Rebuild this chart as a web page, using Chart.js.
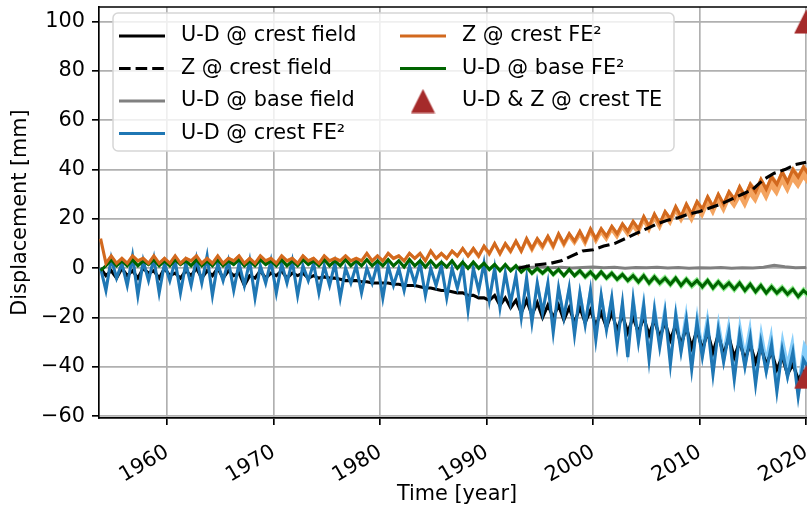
<!DOCTYPE html>
<html>
<head>
<meta charset="utf-8">
<script src="https://cdn.jsdelivr.net/npm/chart.js@4.4.1/dist/chart.umd.min.js"></script>
<style>
  html, body { margin: 0; padding: 0; background: #fff; overflow: hidden; }
  #chart { display: block; margin-top: -6px; }
</style>
</head>
<body>
<canvas id="chart" width="850" height="519"></canvas>
<script>
// samples: two per year from 1954 to 2020 (at Y-0.25 and Y+0.25)
var sampleStart = 1953.75;
var sampleStep = 0.5;

// U-D @ crest field
var udCrestField = [
    0, -3,   -1, -4,    0, -3,   -1, -4,    0, -2,
   -1, -4,    0, -3,   -2, -4,   -1, -3,    0, -4,
   -1, -3,    0, -4,   -1, -3,   -2, -7,   -3, -4,
   -1, -4,   -2, -3,   -1, -4,   -2, -3,   -2, -4,
   -3, -4, -3.5, -4,   -4, -4.5, -5, -5,   -5, -5.5,
 -5.5, -6,   -6, -6,   -6, -6.5, -6.5, -7, -7, -7,
 -7.5, -8,   -8, -8.5, -9, -9, -9.5, -10, -10, -11,
  -11, -12, -12, -13, -11, -15, -12, -16, -13, -18,
  -13, -19, -14, -20, -15, -20, -15, -21, -16, -22,
  -16, -22, -17, -23, -18, -24, -18, -25, -19, -26,
  -20, -26, -20, -27, -21, -28, -22, -29, -23, -31,
  -24, -32, -25, -33, -26, -34, -27, -35, -28, -36,
  -30, -37, -31, -38, -32, -39, -34, -41, -36, -43,
  -39, -45, -42, -45
];

// U-D @ crest FE2
var udCrestFE2 = [
    0, -9,    4, -4,    2, -7,    5, -11,   3, -5,
    4, -10,   2, -5,    3, -10,   2, -7,    4, -6,
    5, -11,   2, -5,    3, -9,    2, -7,    3, -12,
    1, -6,    3, -10,   2, -6,    3, -11,   1, -5,
    2, -10,   1, -7,    2, -12,   0, -6,    1, -10,
    0, -6,    2, -12,   1, -7,    0, -9,    1, -6,
    2, -11,   0, -7,    1, -12,   0, -8,    1, -17,
    0, -9,    2, -13,   0, -16,  -2, -14,  -3, -20,
   -4, -22,  -6, -18,  -6, -26,  -8, -20,  -8, -27,
  -10, -23,  -9, -29, -11, -25, -12, -31, -14, -36,
  -13, -30, -15, -37, -17, -32, -18, -39, -19, -34,
  -21, -41, -22, -36, -23, -43, -25, -38, -26, -45,
  -27, -40, -28, -47, -30, -42, -31, -50, -33, -44,
  -34, -52, -37, -41
];

// Z @ crest FE2
var zCrestFE2 = [
   12, 2,   5, 2,   4, 2,   5, 3,   4, 2,
    5, 2,   4, 2,   5, 2,   4, 3,   5, 2,
    4, 2,   5, 2,   4, 3,   5, 2,   4, 2,
    5, 3,   4, 2,   5, 3,   4, 2,   5, 3,
    4, 2,   5, 3,   4, 3,   5, 3,   4, 3,
    6, 3,   5, 3,   6, 4,   5, 3,   6, 4,
    6, 3,   7, 4,   6, 4,   7, 5,   8, 5,
    8, 5,   9, 6,  10, 6,  10, 7,  11, 7,
   12, 8,  12, 9,  13, 9,  14, 10, 14, 11,
   15, 11, 16, 12, 16, 13, 17, 14, 18, 15,
   19, 16, 21, 17, 22, 18, 23, 20, 25, 21,
   26, 22, 27, 24, 29, 25, 30, 26, 31, 28,
   33, 29, 34, 31, 36, 32, 37, 34, 39, 35,
   40, 37, 41, 38
];

// U-D @ base FE2
var udBaseFE2 = [
   -1, 1,     3.5, 1,    3, 1,      3.5, 1,    3, 1.5,
  3.5, 1,     3, 1,      3.5, 1.5,  3, 1,      3.5, 1,
    3, 1,     3.5, 1,    3, 1.5,    3.5, 1,    3, 1,
  3.5, 1.5,   3, 1,      3.5, 1,    3, 1,      3.5, 1.5,
    3, 1,     3.5, 1,    3, 1,      3.5, 1,    3, 1,
  3.5, 1,     3, 1,      3.5, 1,    3, 0.5,    3.5, 1,
    3, 0.5,   3, 0.5,    2.5, 0.5,  3, 0,      2.5, 0,
  2.5, 0,     2, -0.5,   1.5, -1,   1.5, -1,   1, -1.5,
  0.5, -2,    0, -2,     0, -2.5,  -0.5, -3,  -0.5, -3,
   -1, -3.5, -1.5, -4,  -1.5, -4,   -2, -4.5, -2.5, -5,
   -3, -5.5,  -3, -6,   -3.5, -6,   -4, -6.5,  -4, -7,
 -4.5, -7,    -5, -7.5,  -5, -8,  -5.5, -8,    -6, -8.5,
   -6, -9,  -6.5, -9.5,  -7, -10, -7.5, -10,   -8, -10.5,
 -8.5, -11.5, -9, -11
];

// FE2 band spread, one value per 5 years from 1954
var udCrestBandUp   = [0.8, 0.8, 0.8, 0.8, 0.8, 0.8, 1.0, 1.5, 3, 4, 6, 7, 8, 8];
var udCrestBandDown = [0.8, 0.8, 0.8, 0.8, 0.8, 0.8, 1.0, 1.5, 2, 2.5, 3, 3, 3, 3];
var zCrestBandUp    = [0.8, 0.8, 0.8, 0.8, 0.8, 0.8, 0.8, 1, 1, 1, 1, 1.2, 1.5, 1.5];
var zCrestBandDown  = [0.8, 0.8, 0.8, 0.8, 0.8, 0.8, 1, 1.5, 2, 2.5, 3, 4, 5, 5];
var udBaseBand      = [0.7, 0.7, 0.7, 0.7, 0.7, 0.7, 0.8, 1, 1.2, 1.4, 1.6, 1.6, 1.6, 1.6];

// field data from 1993, yearly
var fieldYears = [1993, 1994, 1995, 1996, 1997, 1998, 1999, 2000, 2001, 2002, 2003, 2004, 2005, 2006,
                  2007, 2008, 2009, 2010, 2011, 2012, 2013, 2014, 2015, 2016, 2017, 2018, 2019, 2020];
var zCrestField = [0, 1, 1.5, 2, 3, 5, 7, 7.5, 9, 10, 12, 14, 16, 18,
                   19.5, 20.5, 22, 23, 24.5, 26, 28, 30, 32, 36, 38.5, 40, 42, 43];
var udBaseField = [0.5, 0.3, 0.6, 0.2, 0.4, 0.1, 0.3, 0.5, 0.2, 0.4, 0.0, 0.3, 0.2, 0.4,
                   0.1, 0.3, 0.0, 0.2, 0.1, 0.3, 0.0, 0.2, 0.1, 0.4, 1.2, 0.6, 0.2, 0.3];

// TE
var teYears = [2020, 2020];
var teValues = [100, -44];

var xTicks = [1960, 1970, 1980, 1990, 2000, 2010, 2020];
var yTicks = [-60, -40, -20, 0, 20, 40, 60, 80, 100];

var FONT = '"DejaVu Sans", sans-serif';
var FS = 20.8;
var LW = 3.1;

function samplePoints(vals) {
    return vals.map(function(v, i) { return {x: sampleStart + i * sampleStep, y: v}; });
}
function bandPoints(vals, spread, sign) {
    return vals.map(function(v, i) {
        var k = Math.min(spread.length - 1, Math.floor(Math.floor(i / 2) / 5));
        return {x: sampleStart + i * sampleStep, y: v + sign * spread[k]};
    });
}
function yearPoints(years, vals) {
    return vals.map(function(v, i) { return {x: years[i], y: v}; });
}

// matplotlib style '^' marker
var tri = document.createElement('canvas');
tri.width = 25; tri.height = 25;
var tctx = tri.getContext('2d');
tctx.fillStyle = '#a52a2a';
tctx.beginPath();
tctx.moveTo(12.5, 0.5);
tctx.lineTo(24.5, 24.5);
tctx.lineTo(0.5, 24.5);
tctx.closePath();
tctx.fill();

function lineSet(label, data, color, order, dash) {
    return {
        label: label, data: data, borderColor: color, borderWidth: LW,
        borderDash: dash || [], pointRadius: 0, fill: false, order: order
    };
}
function bandSet(data, color, order, fillPrev) {
    return {
        label: '', data: data, borderWidth: 0, borderColor: 'rgba(0,0,0,0)',
        backgroundColor: color, pointRadius: 0, fill: fillPrev ? '-1' : false, order: order
    };
}

var datasets = [
    {label: 'U-D & Z @ crest TE', data: yearPoints(teYears, teValues), showLine: false,
     pointStyle: tri, pointRadius: 12, order: 0},
    lineSet('Z @ crest field', yearPoints(fieldYears, zCrestField), 'black', 1, [11.6, 5]),
    lineSet('Z @ crest FE\u00b2', samplePoints(zCrestFE2), '#d2691e', 2),
    lineSet('U-D @ base FE\u00b2', samplePoints(udBaseFE2), '#006400', 3),
    lineSet('U-D @ crest FE\u00b2', samplePoints(udCrestFE2), '#1f77b4', 4),
    lineSet('U-D @ crest field', samplePoints(udCrestField), 'black', 5),
    lineSet('U-D @ base field', yearPoints(fieldYears, udBaseField), '#808080', 6),
    bandSet(bandPoints(zCrestFE2, zCrestBandDown, -1), '#f4a460', 7, false),
    bandSet(bandPoints(zCrestFE2, zCrestBandUp, 1), '#f4a460', 7, true),
    bandSet(bandPoints(udBaseFE2, udBaseBand, -1), '#90ee90', 8, false),
    bandSet(bandPoints(udBaseFE2, udBaseBand, 1), '#90ee90', 8, true),
    bandSet(bandPoints(udCrestFE2, udCrestBandDown, -1), '#87cefa', 9, false),
    bandSet(bandPoints(udCrestFE2, udCrestBandUp, 1), '#87cefa', 9, true)
];

var legendRows = [
    {label: 'U-D @ crest field', kind: 'line', color: 'black', col: 0, row: 0},
    {label: 'Z @ crest field', kind: 'dash', color: 'black', col: 0, row: 1},
    {label: 'U-D @ base field', kind: 'line', color: '#808080', col: 0, row: 2},
    {label: 'U-D @ crest FE\u00b2', kind: 'line', color: '#1f77b4', col: 0, row: 3},
    {label: 'Z @ crest FE\u00b2', kind: 'line', color: '#d2691e', col: 1, row: 0},
    {label: 'U-D @ base FE\u00b2', kind: 'line', color: '#006400', col: 1, row: 1},
    {label: 'U-D & Z @ crest TE', kind: 'marker', color: '#a52a2a', col: 1, row: 2}
];

// canvas is shifted up by this much on the page
var SHIFT = 6;

var frameAndLegend = {
    id: 'frameAndLegend',
    afterDraw: function(chart) {
        var ctx = chart.ctx, a = chart.chartArea;
        ctx.save();
        ctx.strokeStyle = 'black';
        ctx.lineWidth = 1.67;
        ctx.beginPath();
        ctx.moveTo(a.left, a.top);
        ctx.lineTo(a.right, a.top);
        ctx.lineTo(a.right, a.bottom);
        ctx.stroke();

        // legend box
        var bx = 113, by = 13 + SHIFT, bw = 561, bh = 138, r = 5;
        ctx.beginPath();
        ctx.moveTo(bx + r, by);
        ctx.arcTo(bx + bw, by, bx + bw, by + bh, r);
        ctx.arcTo(bx + bw, by + bh, bx, by + bh, r);
        ctx.arcTo(bx, by + bh, bx, by, r);
        ctx.arcTo(bx, by, bx + bw, by, r);
        ctx.closePath();
        ctx.fillStyle = 'rgba(255,255,255,0.8)';
        ctx.fill();
        ctx.strokeStyle = '#d6d6d6';
        ctx.lineWidth = 1.5;
        ctx.stroke();

        var handleX = [119, 400], textX = [181, 462], rowY = [36, 68.5, 101, 133.5];
        ctx.font = FS + 'px ' + FONT;
        ctx.textBaseline = 'middle';
        ctx.textAlign = 'left';
        legendRows.forEach(function(it) {
            var hx = handleX[it.col], y = rowY[it.row] + SHIFT;
            if (it.kind === 'marker') {
                ctx.drawImage(tri, hx + 23 - 12.5, y - 12.5);
            } else {
                ctx.strokeStyle = it.color;
                ctx.lineWidth = LW;
                ctx.setLineDash(it.kind === 'dash' ? [11.6, 5] : []);
                ctx.beginPath();
                ctx.moveTo(hx, y);
                ctx.lineTo(hx + 46, y);
                ctx.stroke();
                ctx.setLineDash([]);
            }
            ctx.fillStyle = 'black';
            ctx.fillText(it.label, textX[it.col], y);
        });
        ctx.restore();
    }
};

Chart.defaults.font.family = FONT;
Chart.defaults.font.size = FS;
Chart.defaults.color = 'black';

new Chart(document.getElementById('chart').getContext('2d'), {
    type: 'line',
    data: {datasets: datasets},
    plugins: [frameAndLegend],
    options: {
        responsive: false,
        animation: false,
        events: [],
        layout: {padding: {left: 0, right: 35, top: 0, bottom: 0}},
        elements: {line: {tension: 0}},
        plugins: {legend: {display: false}, tooltip: {enabled: false}},
        scales: {
            x: {
                type: 'linear',
                min: 1953.6,
                max: 2020.83,
                afterBuildTicks: function(s) { s.ticks = xTicks.map(function(v) { return {value: v}; }); },
                afterFit: function(s) { s.height = 95; },
                ticks: {
                    autoSkip: false, maxRotation: 30, minRotation: 30, padding: 15,
                    callback: function(v) { return String(v); }
                },
                grid: {color: '#b0b0b0', lineWidth: 1.67, tickColor: 'black', tickLength: 7, tickWidth: 1.67},
                border: {color: 'black', width: 1.67},
                title: {display: true, text: 'Time [year]', padding: {top: 0, bottom: 5.5}}
            },
            y: {
                min: -60.7,
                max: 105.9,
                afterBuildTicks: function(s) { s.ticks = yTicks.map(function(v) { return {value: v}; }); },
                afterFit: function(s) { s.width = 99; },
                ticks: {
                    padding: 7,
                    font: {lineHeight: 0.3},
                    callback: function(v) { return (v < 0 ? '\u2212' : '') + Math.abs(v); }
                },
                grid: {color: '#b0b0b0', lineWidth: 1.67, tickColor: 'black', tickLength: 7, tickWidth: 1.67},
                border: {color: 'black', width: 1.67},
                title: {display: true, text: 'Displacement [mm]', padding: {top: 8.5, bottom: 0}}
            }
        }
    }
});
</script>
</body>
</html>
